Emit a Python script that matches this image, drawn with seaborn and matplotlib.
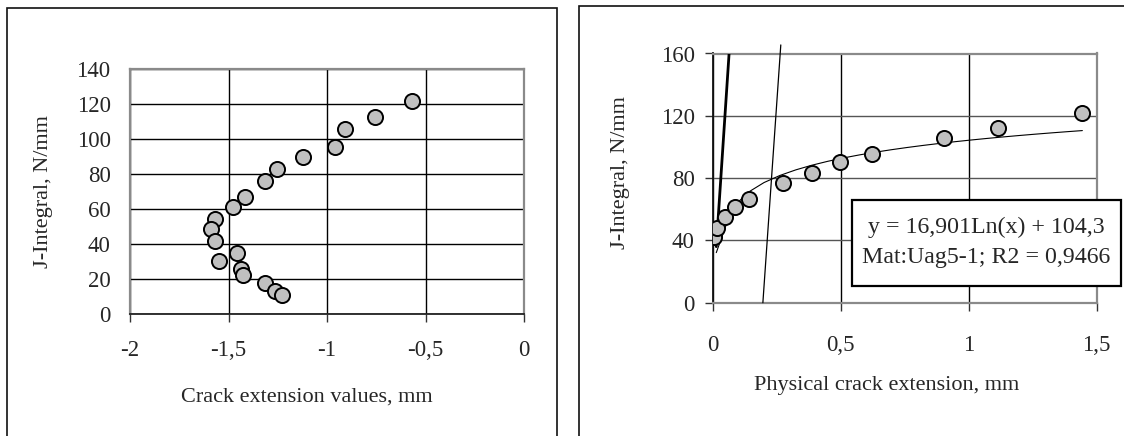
import numpy as np
import pandas as pd
import matplotlib
matplotlib.use("Agg")
import matplotlib.pyplot as plt
from matplotlib.patches import Rectangle
import seaborn as sns

# ---------------- data ----------------
left_x = [-0.566, -0.758, -0.908, -0.960, -1.122, -1.254, -1.314, -1.416, -1.476,
          -1.566, -1.588, -1.566, -1.456, -1.547, -1.438, -1.426, -1.314, -1.264, -1.230]
left_y = [121.7, 112.6, 105.7, 95.4, 89.7, 82.8, 76.1, 66.8, 61.2,
          54.4, 48.4, 41.8, 35.1, 30.3, 25.9, 22.1, 17.7, 13.1, 10.6]

right_x = [0.007, 0.017, 0.049, 0.089, 0.141, 0.275, 0.387, 0.497, 0.621, 0.904, 1.113, 1.444]
right_y = [42.4, 48.1, 54.8, 61.2, 66.3, 77.0, 83.4, 90.1, 95.4, 105.5, 112.3, 121.5]

# logarithmic trendline coefficients (as given in the chart label)
fit_a = 16.901
fit_b = 104.3
fit_range = [0.014, 1.444]

# blunting line and 0.2 mm offset line endpoints
blunt_x = [0.014, 0.064]
blunt_y = [36.0, 160.0]
offset_x = [0.196, 0.266]
offset_y = [0.0, 165.5]

left_xticks = [-2, -1.5, -1, -0.5, 0]
left_xticklabels = ["-2", "-1,5", "-1", "-0,5", "0"]
left_yticks = [0, 20, 40, 60, 80, 100, 120, 140]
right_xticks = [0, 0.5, 1, 1.5]
right_xticklabels = ["0", "0,5", "1", "1,5"]
right_yticks = [0, 40, 80, 120, 160]

label_left_x = "Crack extension values, mm"
label_right_x = "Physical crack extension, mm"
label_y = "J-Integral, N/mm"
box_line1 = "y = 16,901Ln(x) + 104,3"
box_line2 = "Mat:Uag5-1; R2 = 0,9466"

# ---------------- style ----------------
sns.set_style("white")
plt.rcParams['font.family'] = ['Liberation Serif', 'DejaVu Serif']
plt.rcParams['font.size'] = 16

W, H = 1124, 436
fig = plt.figure(figsize=(W / 100, H / 100), dpi=100)

def fx(px):
    return px / W

def fy(py):
    return 1 - py / H

# panel borders
fig.patches.append(Rectangle((fx(7), fy(470)), fx(557 - 7), (470 - 8) / H,
                             transform=fig.transFigure, fill=False, ec='#111111', lw=1.2))
fig.patches.append(Rectangle((fx(579), fy(470)), fx(1160 - 579), (470 - 6) / H,
                             transform=fig.transFigure, fill=False, ec='#111111', lw=1.2))

marker_kw = dict(s=118, color='#c0c0c0', edgecolor='black', linewidth=1.4, zorder=5)

# ---------------- left panel ----------------
axL = fig.add_axes([fx(130), fy(314), fx(524 - 130), (314 - 69) / H])
dfL = pd.DataFrame({"x": left_x, "y": left_y})
sns.scatterplot(data=dfL, x="x", y="y", ax=axL, legend=False, **marker_kw)
axL.set_xlim(-2, 0)
axL.set_ylim(0, 140)
axL.set_xticks(left_xticks)
axL.set_xticklabels(left_xticklabels)
axL.set_yticks(left_yticks)
axL.set_xlabel("")
axL.set_ylabel("")
axL.set_axisbelow(True)
axL.grid(True, color='black', lw=1.0)
for s in ['left', 'top', 'right']:
    axL.spines[s].set_color('#8a8a8a')
    axL.spines[s].set_linewidth(1.6)
axL.spines['bottom'].set_color('#222222')
axL.spines['bottom'].set_linewidth(1.3)
axL.tick_params(axis='x', direction='out', length=6, width=1, color='#333333', pad=13, labelsize=16.5)
axL.tick_params(axis='y', length=0, pad=14, labelsize=16.5)
axL.xaxis.set_ticks_position('bottom')

fig.text(fx(307), fy(397), label_left_x, ha='center', va='center', fontsize=16)
fig.text(fx(44), fy(192), label_y, ha='center', va='center', rotation=90, fontsize=16)

# ---------------- right panel ----------------
axR = fig.add_axes([fx(712.7), fy(302.7), fx(1096.7 - 712.7), (302.7 - 53.5) / H])
dfR = pd.DataFrame({"x": right_x, "y": right_y})
sns.scatterplot(data=dfR, x="x", y="y", ax=axR, legend=False, **marker_kw)

xs = np.linspace(fit_range[0], fit_range[1], 24)
dfFit = pd.DataFrame({"x": xs, "y": fit_a * np.log(xs) + fit_b})
sns.lineplot(data=dfFit, x="x", y="y", ax=axR, color='black', lw=0.8, zorder=4)
sns.lineplot(x=blunt_x, y=blunt_y, ax=axR, color='black', lw=2.0, zorder=4)
axR.plot(offset_x, offset_y, color='black', lw=0.9, zorder=4, clip_on=False)

axR.set_xlim(0, 1.5)
axR.set_ylim(0, 160)
axR.set_xticks(right_xticks)
axR.set_xticklabels(right_xticklabels)
axR.set_yticks(right_yticks)
axR.set_xlabel("")
axR.set_ylabel("")
axR.set_axisbelow(True)
axR.xaxis.grid(True, color='black', lw=1.0)
axR.yaxis.grid(True, color='#555555', lw=1.0)
for s in ['top', 'right', 'bottom']:
    axR.spines[s].set_color('#8a8a8a')
    axR.spines[s].set_linewidth(1.6)
axR.spines['left'].set_color('#111111')
axR.spines['left'].set_linewidth(1.3)
axR.tick_params(axis='x', direction='out', length=6, width=1, color='#333333', pad=17, labelsize=16.5)
axR.tick_params(axis='y', direction='out', length=6, width=1, color='#333333', pad=7, labelsize=16.5)
axR.xaxis.set_ticks_position('bottom')
axR.yaxis.set_ticks_position('left')

fig.text(fx(887), fy(385), label_right_x, ha='center', va='center', fontsize=16)
fig.text(fx(620), fy(173), label_y, ha='center', va='center', rotation=90, fontsize=16)

# equation box
fig.patches.append(Rectangle((fx(852), fy(286)), fx(1121 - 852), (286 - 200) / H,
                             transform=fig.transFigure, fc='white', ec='black', lw=1.6, zorder=10))
fig.text(fx(986.5), fy(227), box_line1, ha='center', va='center', fontsize=17.2, zorder=11)
fig.text(fx(986.5), fy(258), box_line2, ha='center', va='center', fontsize=17.2, zorder=11)

fig.savefig("out.png", dpi=100)
